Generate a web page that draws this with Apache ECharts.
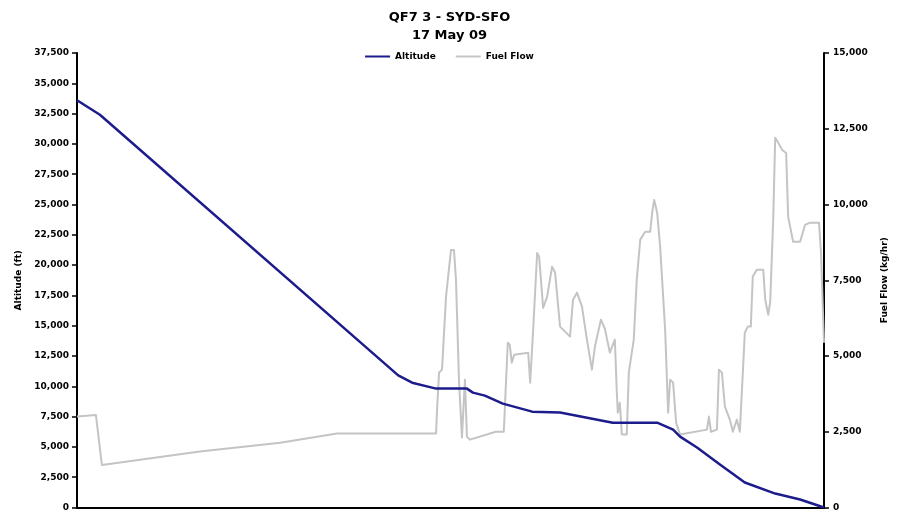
<!DOCTYPE html>
<html>
<head>
<meta charset="utf-8">
<script src="https://cdn.jsdelivr.net/npm/echarts@6/dist/echarts.min.js"></script>
<style>
  html, body { margin: 0; padding: 0; background: #fff; }
  #chart { width: 899px; height: 512px; }
</style>
</head>
<body>
<div id="chart"></div>
<script>
// Elapsed sample index (10 s steps) and altitude in feet
const altTime = [0, 4.6, 64.5, 67.3, 72.1, 78.3, 79.5, 81.9, 85.5, 91.4, 97.0, 107.6, 116.5, 119.7, 121.1, 124.5, 129.1, 134.1, 140.2, 145.2, 150];
const altFeet = [33600, 32400, 10900, 10300, 9810, 9810, 9480, 9230, 8570, 7910, 7830, 7000, 7000, 6430, 5850, 4950, 3540, 2060, 1150, 660, 0];

// Elapsed sample index and fuel flow in kg/hr
const fuelTime = [0, 3.8, 5.0, 24.7, 40.8, 52.2, 72.1, 72.3, 72.7, 73.3, 74.1, 75.1, 75.7, 76.1, 76.7, 77.3, 77.9, 78.3, 78.9,
  84.1, 85.7, 86.5, 86.9, 87.3, 87.8, 90.6, 91.0, 91.6, 92.4, 92.8, 93.6, 94.4, 95.4, 96.0, 97.0, 99.0, 99.6, 100.4, 101.4,
  102.4, 103.4, 104.0, 105.2, 106.0, 107.0, 108.0, 108.4, 108.6, 109.0, 109.4, 110.4, 110.8, 111.8, 112.4, 113.1, 114.1, 115.1, 115.5, 115.9, 116.5,
  117.1, 118.1, 118.7, 119.1, 119.7, 120.3, 121.1, 126.5, 126.9, 127.3, 128.5, 128.9, 129.5, 130.1, 131.1, 131.7, 132.5, 133.1, 133.7, 134.1, 134.7, 135.3,
  135.7, 136.5, 137.8, 138.2, 138.8, 139.2, 139.8, 140.2, 140.6, 141.6, 142.4, 142.8, 143.8, 145.2, 146.2, 147.2, 149.0, 149.4, 150];
const fuelFlow = [3000, 3050, 1400, 1850, 2140, 2440, 2440, 3230, 4450, 4550, 6960, 8500, 8500, 7520, 4220, 2310, 4220, 2340, 2240,
  2500, 2500, 5440, 5370, 4780, 5040, 5110, 4120, 5870, 8400, 8280, 6590, 6960, 7950, 7750, 5970, 5640, 6860, 7090, 6630,
  5540, 4550, 5310, 6200, 5900, 5110, 5540, 3790, 3130, 3460, 2410, 2410, 4450, 5540, 7520, 8840, 9100, 9100, 9730, 10150, 9730,
  8600, 5870, 3130, 4220, 4120, 2800, 2410, 2570, 3000, 2500, 2570, 4550, 4450, 3330, 2900, 2500, 2900, 2500, 4450, 5770, 5970, 5970,
  7620, 7850, 7850, 6860, 6360, 6790, 9500, 12200, 12100, 11800, 11700, 9600, 8770, 8770, 9330, 9400, 9400, 8400, 5440];

const titleText = 'QF7 3 - SYD-SFO';
const subtitleText = '17 May 09';
const altName = 'Altitude';
const fuelName = 'Fuel Flow';
const altAxisName = 'Altitude (ft)';
const fuelAxisName = 'Fuel Flow (kg/hr)';

const FONT = 'DejaVu Sans';
const fmt = v => v.toLocaleString('en-US');
const pairs = (xs, ys) => xs.map((x, i) => [x, ys[i]]);

const chart = echarts.init(document.getElementById('chart'), null, { renderer: 'canvas' });
chart.setOption({
  animation: false,
  backgroundColor: '#fff',
  textStyle: { fontFamily: FONT },
  title: {
    text: titleText + '\n' + subtitleText,
    left: 'center',
    top: 4,
    textStyle: { fontFamily: FONT, fontSize: 13, fontWeight: 'bold', color: '#000', lineHeight: 18 }
  },
  legend: {
    top: 47,
    left: 'center',
    itemWidth: 25,
    itemHeight: 10,
    itemGap: 20,
    textStyle: { fontFamily: FONT, fontSize: 9, fontWeight: 'bold', color: '#000' },
    data: [
      { name: altName, icon: 'path://M0,4 L25,4 L25,6 L0,6 Z' },
      { name: fuelName, icon: 'path://M0,4 L25,4 L25,6 L0,6 Z' }
    ]
  },
  grid: { left: 77, right: 75, top: 53, bottom: 4, containLabel: false },
  xAxis: {
    type: 'value',
    min: 0,
    max: 150,
    axisLine: { show: true, lineStyle: { color: '#000', width: 2 } },
    axisTick: { show: false },
    axisLabel: { show: false },
    splitLine: { show: false }
  },
  yAxis: [
    {
      type: 'value',
      position: 'left',
      min: 0,
      max: 37500,
      interval: 2500,
      name: altAxisName,
      nameLocation: 'middle',
      nameRotate: 90,
      nameGap: 53,
      nameTextStyle: { fontFamily: FONT, fontSize: 9, fontWeight: 'bold', color: '#000' },
      axisLine: { show: true, lineStyle: { color: '#000', width: 2 } },
      axisTick: { show: true, length: 5, lineStyle: { color: '#000', width: 1.5 } },
      axisLabel: { formatter: fmt, margin: 8, fontFamily: FONT, fontSize: 9, fontWeight: 'bold', color: '#000' },
      splitLine: { show: false }
    },
    {
      type: 'value',
      position: 'right',
      min: 0,
      max: 15000,
      interval: 2500,
      name: fuelAxisName,
      nameLocation: 'middle',
      nameRotate: 90,
      nameGap: 56,
      nameTextStyle: { fontFamily: FONT, fontSize: 9, fontWeight: 'bold', color: '#000' },
      axisLine: { show: true, lineStyle: { color: '#000', width: 2 } },
      axisTick: { show: true, length: 5, lineStyle: { color: '#000', width: 1.5 } },
      axisLabel: { formatter: fmt, margin: 9, fontFamily: FONT, fontSize: 9, fontWeight: 'bold', color: '#000' },
      splitLine: { show: false }
    }
  ],
  series: [
    {
      name: fuelName,
      type: 'line',
      yAxisIndex: 1,
      data: pairs(fuelTime, fuelFlow),
      showSymbol: false,
      symbol: 'none',
      z: 2,
      itemStyle: { color: '#c4c4c4' },
      lineStyle: { color: '#c4c4c4', width: 2, join: 'round' }
    },
    {
      name: altName,
      type: 'line',
      yAxisIndex: 0,
      data: pairs(altTime, altFeet),
      showSymbol: false,
      symbol: 'none',
      z: 3,
      itemStyle: { color: '#1c1c8c' },
      lineStyle: { color: '#1c1c8c', width: 2.5, join: 'round' }
    }
  ]
});
</script>
</body>
</html>
